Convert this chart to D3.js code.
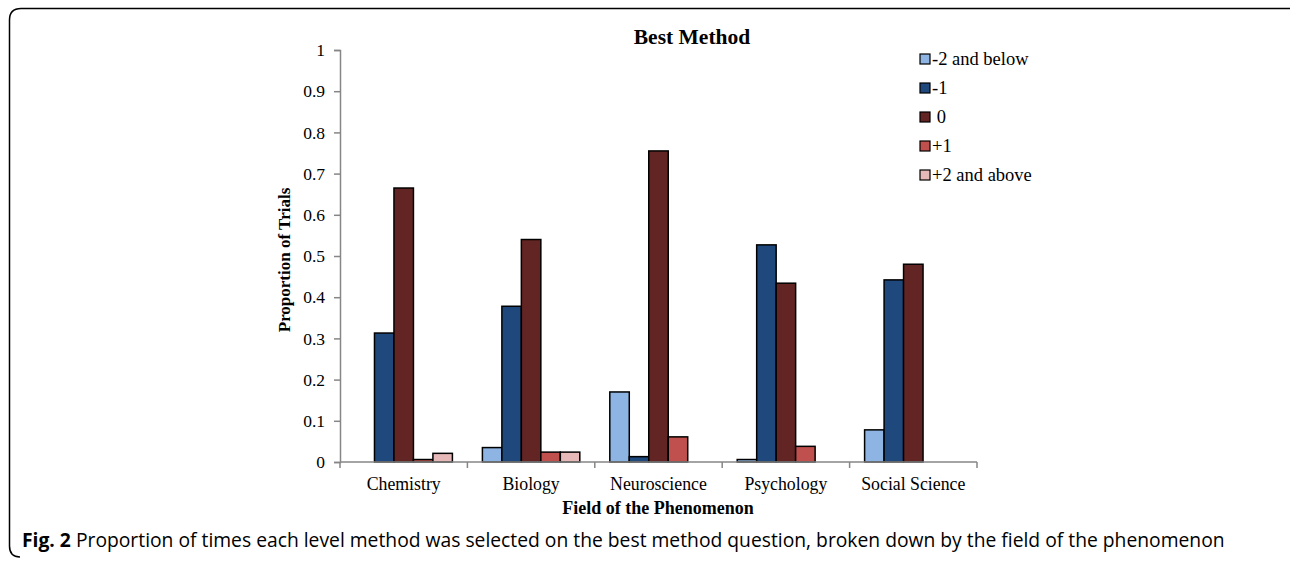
<!DOCTYPE html>
<html>
<head>
<meta charset="utf-8">
<script src="https://cdn.jsdelivr.net/npm/d3@7"></script>
<style>
  body { margin: 0; background: #fff; }
  svg text { font-family: "Liberation Serif", "Times New Roman", serif; fill: #000; }
</style>
</head>
<body>
<div id="chart"></div>
<script>
// Chart data
const fields = ["Chemistry", "Biology", "Neuroscience", "Psychology", "Social Science"];
const levels = ["-2 and below", "-1", " 0", "+1", "+2 and above"];
const minus2 = [0, 0.035, 0.17, 0.006, 0.078];
const minus1 = [0.313, 0.378, 0.013, 0.527, 0.442];
const zero = [0.665, 0.54, 0.755, 0.434, 0.48];
const plus1 = [0.006, 0.024, 0.061, 0.038, 0];
const plus2 = [0.021, 0.024, 0, 0, 0];
const yTicks = [0, 0.1, 0.2, 0.3, 0.4, 0.5, 0.6, 0.7, 0.8, 0.9, 1];

const levelColors = ["#8db4e2", "#1f497d", "#632523", "#c0504d", "#e6b9b8"];
const series = [minus2, minus1, zero, plus1, plus2];

const width = 1290;
const height = 563;
const plotLeft = 340, plotRight = 977, plotTop = 50, plotBottom = 462;

const svg = d3.select("#chart")
  .append("svg")
  .attr("width", width)
  .attr("height", height);

// figure frame (top and left edge with rounded corners)
svg.append("path")
  .attr("d", "M1290,8.5 H21 Q9.5,8.5 9.5,20 V546 Q9.5,557 20,557")
  .attr("fill", "none")
  .attr("stroke", "#000")
  .attr("stroke-width", 1.5);

const x = d3.scaleBand()
  .domain(fields)
  .range([plotLeft, plotRight])
  .padding(0);

const xSub = d3.scaleBand()
  .domain(levels)
  .range([0, x.bandwidth()])
  .paddingInner(0)
  .paddingOuter(0.77);

const y = d3.scaleLinear()
  .domain([0, 1])
  .range([plotBottom, plotTop]);

// bars
series.forEach((vals, i) => {
  const rows = fields.map((f, j) => ({ field: f, value: vals[j] })).filter((d) => d.value > 0);
  svg.append("g")
    .selectAll("rect")
    .data(rows)
    .enter()
    .append("rect")
    .attr("x", (d) => x(d.field) + xSub(levels[i]))
    .attr("y", (d) => y(d.value))
    .attr("width", xSub.bandwidth())
    .attr("height", (d) => y(0) - y(d.value))
    .attr("fill", levelColors[i])
    .attr("stroke", "#000")
    .attr("stroke-width", 1.5);
});

// y axis
const yAxis = svg.append("g")
  .attr("transform", `translate(${plotLeft},0)`)
  .call(d3.axisLeft(y).tickValues(yTicks).tickFormat(d3.format("")).tickSize(6).tickPadding(9));
yAxis.select(".domain").attr("stroke", "#868686").attr("stroke-width", 1.5);
yAxis.selectAll(".tick line").attr("stroke", "#868686").attr("stroke-width", 1.5);
yAxis.selectAll("text").style("font-size", "17.5px").style("font-family", "Liberation Serif");

// x axis with ticks on category boundaries
const xAxisG = svg.append("g")
  .attr("transform", `translate(0,${plotBottom})`);
xAxisG.append("line")
  .attr("x1", plotLeft).attr("x2", plotRight)
  .attr("stroke", "#868686").attr("stroke-width", 1.5);
const bounds = fields.map((d) => x(d)).concat([plotRight]);
xAxisG.selectAll(".btick")
  .data(bounds)
  .enter()
  .append("line")
  .attr("x1", (d) => d).attr("x2", (d) => d)
  .attr("y1", 0).attr("y2", 6)
  .attr("stroke", "#868686").attr("stroke-width", 1.5);
xAxisG.selectAll(".lbl")
  .data(fields)
  .enter()
  .append("text")
  .attr("x", (d) => x(d) + x.bandwidth() / 2)
  .attr("y", 28)
  .attr("text-anchor", "middle")
  .style("font-size", "17.8px")
  .text((d) => d);

// titles
svg.append("text")
  .attr("x", 692).attr("y", 44)
  .attr("text-anchor", "middle")
  .style("font-size", "21.5px").style("font-weight", "bold")
  .text("Best Method");

svg.append("text")
  .attr("x", 658).attr("y", 514)
  .attr("text-anchor", "middle")
  .style("font-size", "18px").style("font-weight", "bold")
  .text("Field of the Phenomenon");

svg.append("text")
  .attr("transform", "translate(290,260) rotate(-90)")
  .attr("text-anchor", "middle")
  .style("font-size", "17px").style("font-weight", "bold")
  .text("Proportion of Trials");

// legend
const legend = svg.append("g")
  .attr("transform", "translate(920,54)");
levels.forEach((lv, i) => {
  legend.append("rect")
    .attr("x", 0).attr("y", i * 29)
    .attr("width", 10).attr("height", 10)
    .attr("fill", levelColors[i])
    .attr("stroke", "#000").attr("stroke-width", 1.2);
  legend.append("text")
    .attr("x", 12).attr("y", i * 29 + 11)
    .style("font-size", "18.5px")
    .style("white-space", "pre")
    .attr("xml:space", "preserve")
    .text(lv);
});

// caption
const cap = svg.append("text")
  .attr("x", 22).attr("y", 547)
  .style("font-family", "'Open Sans', 'Noto Sans', sans-serif")
  .style("font-size", "19.3px");
cap.append("tspan").style("font-weight", "bold").style("font-family", "'Open Sans', sans-serif").text("Fig. 2");
cap.append("tspan").style("font-family", "'Open Sans', sans-serif")
  .text(" Proportion of times each level method was selected on the best method question, broken down by the field of the phenomenon");
</script>
</body>
</html>
